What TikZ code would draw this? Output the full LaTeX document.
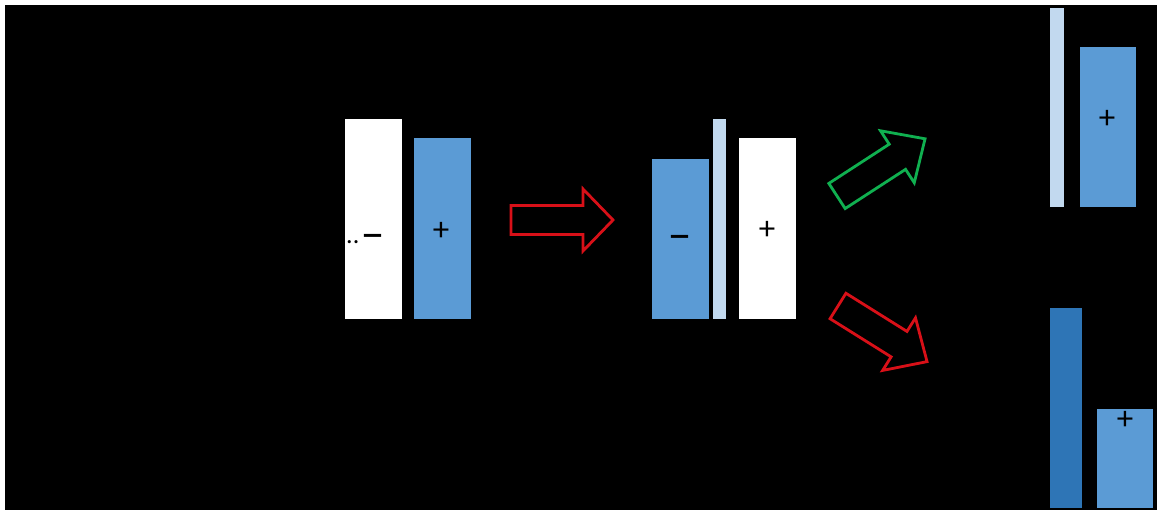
\documentclass[tikz,border=0pt]{standalone}
\usepackage{fontspec}
\setmainfont{Carlito}
\definecolor{midblue}{HTML}{5B9BD5}
\definecolor{lightblue}{HTML}{C2D9EF}
\definecolor{darkblue}{HTML}{2E75B6}
\definecolor{arrred}{HTML}{D81018}
\definecolor{arrgreen}{HTML}{10B050}
\tikzset{
  bar/.style={anchor=north west, inner sep=0pt, outer sep=0pt, draw=none},
  sign/.style={inner sep=0pt, font=\fontsize{33}{33}\selectfont, text=black},
  minussign/.style={sign, xscale=1.4, yscale=1.4},
  dots/.style={inner sep=0pt, font=\fontsize{26}{26}\selectfont, text=black},
  hollowarrow/.style={line width=2.8pt, line join=miter, fill=none},
}
\begin{document}
\begin{tikzpicture}[x=1pt,y=1pt]
\useasboundingbox (0,0) rectangle (1157,510);
\fill[white] (0,0) rectangle (1157,510);
\fill[black] (5,0) rectangle (1157,505);
% left pair
\node[bar, fill=white, minimum width=57pt, minimum height=200pt] (A) at (345,391) {};
\node[bar, fill=midblue, minimum width=57pt, minimum height=181pt] (B) at (414,372) {};
\node[dots, anchor=base west] (Adots) at (346,266) {..};
\node[minussign] (Aminus) at (373,268) {−};
\node[sign] (Bplus) at (441,279) {+};
% middle red arrow
\begin{scope}[shift={(511,290)}]
\draw[hollowarrow, draw=arrred] (0,-14.5) -- (72,-14.5) -- (72,-31) -- (102,0) -- (72,31) -- (72,14.5) -- (0,14.5) -- cycle;
\end{scope}
% middle group
\node[bar, fill=midblue, minimum width=57pt, minimum height=160pt] (C) at (652,351) {};
\node[bar, fill=lightblue, minimum width=13pt, minimum height=200pt] (D) at (713,391) {};
\node[bar, fill=white, minimum width=57pt, minimum height=181pt] (E) at (739,372) {};
\node[minussign] (Cminus) at (680,267) {−};
\node[sign] (Eplus) at (767,280) {+};
% green arrow up-right
\begin{scope}[shift={(837,314)}, rotate=33]
\draw[hollowarrow, draw=arrgreen] (0,-15) -- (72,-15) -- (72,-31) -- (105,0) -- (72,31) -- (72,15) -- (0,15) -- cycle;
\end{scope}
% red arrow down-right
\begin{scope}[shift={(838,204)}, rotate=-32]
\draw[hollowarrow, draw=arrred] (0,-15) -- (72,-15) -- (72,-31) -- (105,0) -- (72,31) -- (72,15) -- (0,15) -- cycle;
\end{scope}
% top right group
\node[bar, fill=lightblue, minimum width=14pt, minimum height=199pt] (F) at (1050,502) {};
\node[bar, fill=midblue, minimum width=56pt, minimum height=160pt] (G) at (1080,463) {};
\node[sign] (Gplus) at (1107,391) {+};
% bottom right group
\node[bar, fill=darkblue, minimum width=32pt, minimum height=200pt] (H) at (1050,202) {};
\node[bar, fill=midblue, minimum width=56pt, minimum height=99pt] (I) at (1097,101) {};
\node[sign] (Iplus) at (1125,90) {+};
\end{tikzpicture}
\end{document}
